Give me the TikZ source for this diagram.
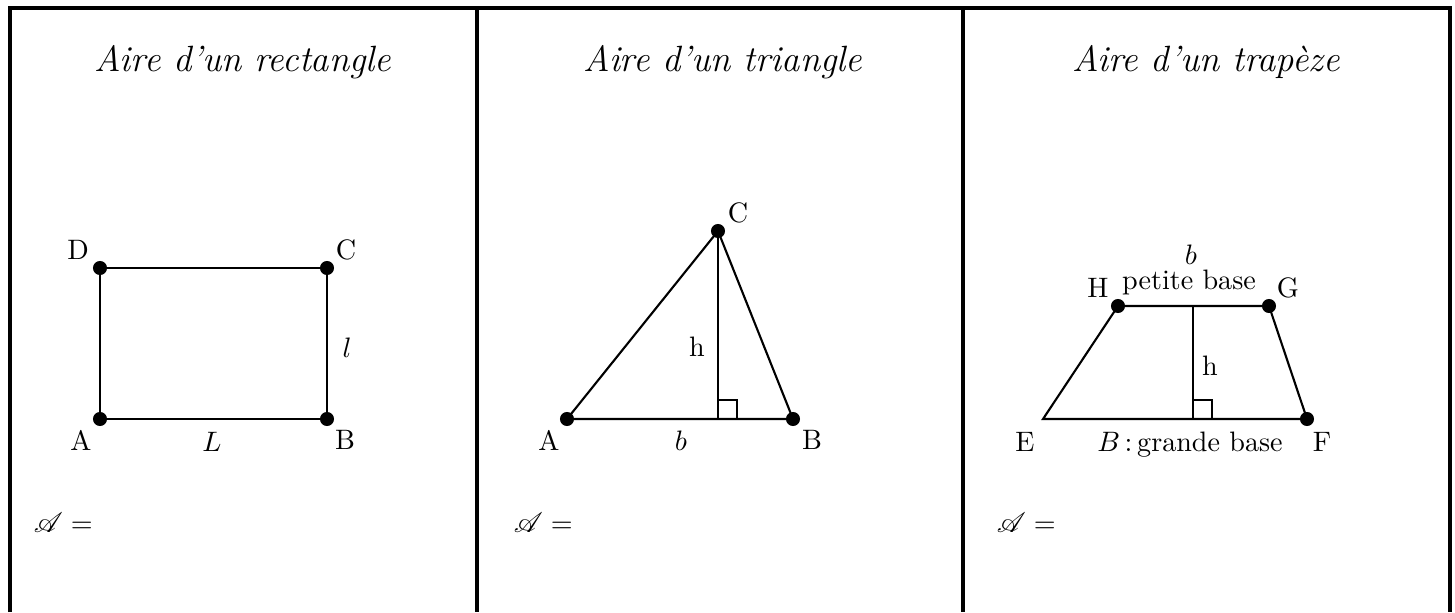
\documentclass[tikz,border=0pt]{standalone}
\usepackage{amsmath}
\usepackage{mathrsfs}
\usepackage{tikz}
\usetikzlibrary{calc}
\tikzset{point/.style = {circle, fill, inner sep = 0pt, minimum size = 5pt}}
\tikzset{side/.style = {line width = 0.75pt}}
\tikzset{cadre/.style = {line width = 1.1pt}}
\tikzset{titre/.style = {font = \fontsize{13}{15}\selectfont\itshape}}

\begin{document}
\begin{tikzpicture}[x = 0.125mm, y = -0.125mm]
			\useasboundingbox (0, 0) rectangle (1455, 612);
			% cadre
			\draw[cadre] (10, 612) -- (10, 8) -- (1450, 8) -- (1450, 612);
			\draw[cadre] (477, 8) -- (477, 612);
			\draw[cadre] (963, 8) -- (963, 612);

			\node[titre] (t1) at (243, 62) {Aire d'un rectangle};
			\node[titre] (t2) at (723, 62) {Aire d'un triangle};
			\node[titre] (t3) at (1206, 62) {Aire d'un trapèze};

			% rectangle
			\coordinate (A) at (100, 419);
			\coordinate (B) at (327, 419);
			\coordinate (C) at (327, 268);
			\coordinate (D) at (100, 268);
			\draw[side] (A) -- (B) -- (C) -- (D) -- cycle;
			\foreach \p in {A, B, C, D} \node[point] at (\p) {};
			\node (lA) at (81, 440) {A};
			\node (lB) at (345, 440) {B};
			\node (lC) at (346, 250) {C};
			\node (lD) at (78, 250) {D};
			\node (lL) at (212, 442) {$L$};
			\node (ll) at (347, 348) {$l$};

			% triangle
			\coordinate (A2) at (567, 419);
			\coordinate (B2) at (793, 419);
			\coordinate (C2) at (718, 231);
			\coordinate (H2) at (718, 419);
			\draw[side] (A2) -- (B2) -- (C2) -- cycle;
			\draw[side] (C2) -- (H2);
			\draw[side] ($(H2) + (0, -19)$) -- ++(19, 0) -- ++(0, 19);
			\foreach \p in {A2, B2, C2} \node[point] at (\p) {};
			\node (lA2) at (549, 440) {A};
			\node (lB2) at (812, 440) {B};
			\node (lC2) at (738, 213) {C};
			\node (lb2) at (681, 441) {$b$};
			\node (lh2) at (697, 347) {h};

			% trapeze
			\coordinate (E) at (1043, 419);
			\coordinate (F) at (1307, 419);
			\coordinate (G) at (1269, 306);
			\coordinate (H) at (1118, 306);
			\coordinate (K) at (1193, 306);
			\coordinate (K') at (1193, 419);
			\draw[side] (E) -- (F) -- (G) -- (H) -- cycle;
			\draw[side] (K) -- (K');
			\draw[side] ($(K') + (0, -19)$) -- ++(19, 0) -- ++(0, 19);
			\foreach \p in {F, G, H} \node[point] at (\p) {};
			\node (lE) at (1025, 442) {E};
			\node (lF) at (1322, 442) {F};
			\node (lG) at (1288, 288) {G};
			\node (lH) at (1098, 288) {H};
			\node (lb3) at (1191, 255) {$b$};
			\node (pb) at (1189, 282) {petite base};
			\node (lh3) at (1210, 366) {h};
			\node (gb) at (1190, 445) {$B$\,:\,grande base};

			% aire
			\node[anchor = west] (a1) at (24, 523) {$\mathscr{A} =$};
			\node[anchor = west] (a2) at (504, 523) {$\mathscr{A} =$};
			\node[anchor = west] (a3) at (987, 523) {$\mathscr{A} =$};
		\end{tikzpicture}
\end{document}
